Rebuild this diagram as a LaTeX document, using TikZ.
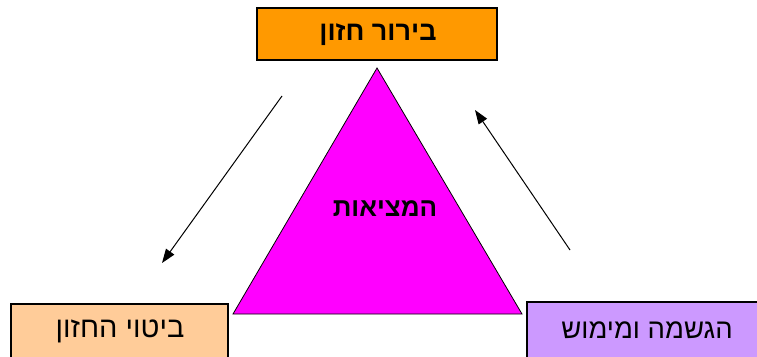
\documentclass[tikz,border=0pt]{standalone}
\usepackage{fontspec}
\TeXXeTstate=1
\newfontfamily\hebfont[Script=Hebrew]{Liberation Sans}
\definecolor{orangebox}{HTML}{FF9900}
\definecolor{peachbox}{HTML}{FFCC99}
\definecolor{lilacbox}{HTML}{CC99FF}
\definecolor{magentatri}{HTML}{FF00FF}
\usetikzlibrary{arrows.meta}
\tikzset{
  box/.style={draw=black, line width=1.2pt, inner sep=0pt},
  conn/.style={-{Triangle[length=14pt,width=10pt]}, line width=1pt},
}
\begin{document}
\begin{tikzpicture}[x=1pt,y=-1pt]
\useasboundingbox (0,0) rectangle (757,356);
% boxes
\draw[box, fill=orangebox] (257,8) rectangle (497,60);
\node (top) at (378,35) {\hebfont\fontsize{27}{30}\selectfont\bfseries\beginR בירור חזון\endR};
\draw[box, fill=peachbox] (11,304) rectangle (228,358);
\node (bl) at (120,331) {\hebfont\fontsize{29}{32}\selectfont\beginR ביטוי החזון\endR};
\draw[box, fill=lilacbox] (527,302) rectangle (760,358);
\node (br) at (647,330) {\hebfont\fontsize{27.5}{30}\selectfont\beginR הגשמה ומימוש\endR};
% triangle
\coordinate (apex) at (377,68);
\coordinate (bleft) at (233,314);
\coordinate (bright) at (522,314);
\draw[fill=magentatri, line width=0.8pt] (apex) -- (bleft) -- (bright) -- cycle;
\node (mid) at (385,209) {\hebfont\fontsize{26}{30}\selectfont\bfseries\beginR המציאות\endR};
% arrows
\coordinate (a1s) at (282,96);
\coordinate (a1e) at (162,263);
\coordinate (a2s) at (570,250);
\coordinate (a2e) at (475,110);
\draw[conn] (a1s) -- (a1e);
\draw[conn] (a2s) -- (a2e);
\end{tikzpicture}
\end{document}
